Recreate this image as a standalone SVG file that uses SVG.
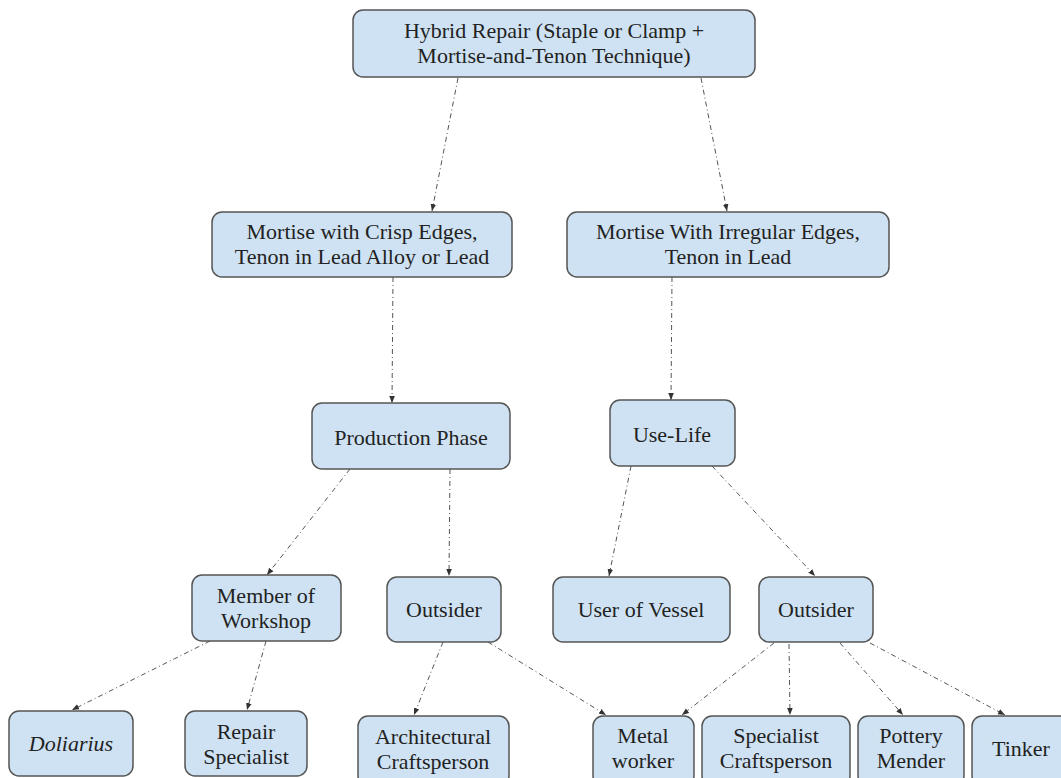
<svg xmlns="http://www.w3.org/2000/svg" width="1061" height="778" viewBox="0 0 1061 778">
<style>
.n rect{fill:#cfe2f3;stroke:#555;stroke-width:1.5}
.n text{font-family:"Liberation Serif","DejaVu Serif",serif;font-size:22px;fill:#222;text-anchor:middle}
.c line{stroke:#555;stroke-width:1;stroke-dasharray:5 3 1 3;fill:none;marker-end:url(#ah)}
</style>
<defs>
<marker id="ah" viewBox="0 0 10 10" refX="10" refY="5" markerWidth="7" markerHeight="7" markerUnits="userSpaceOnUse" orient="auto">
<path d="M0,1 L10,5 L0,9 Z" fill="#333"/>
</marker>
</defs>
<rect width="1061" height="778" fill="#fff"/>
<g class="c">
<line x1="458" y1="78" x2="432" y2="211"/>
<line x1="701" y1="78" x2="727" y2="211"/>
<line x1="393" y1="277" x2="392" y2="403"/>
<line x1="672" y1="277" x2="671" y2="400"/>
<line x1="350" y1="469" x2="267" y2="575"/>
<line x1="450" y1="469" x2="449" y2="576"/>
<line x1="631" y1="466" x2="609" y2="576"/>
<line x1="712" y1="466" x2="815" y2="576"/>
<line x1="210" y1="641" x2="72" y2="710"/>
<line x1="266" y1="641" x2="247" y2="710"/>
<line x1="443" y1="642" x2="414" y2="715"/>
<line x1="488" y1="642" x2="606" y2="715"/>
<line x1="774" y1="643" x2="682" y2="715"/>
<line x1="789" y1="644" x2="790" y2="715"/>
<line x1="840" y1="643" x2="903" y2="715"/>
<line x1="870" y1="643" x2="1005" y2="715"/>
</g>
<g id="n1" class="n"><rect x="353" y="10" width="402" height="67" rx="10"/><text x="554" y="38">Hybrid Repair (Staple or Clamp +</text><text x="554" y="63">Mortise-and-Tenon Technique)</text></g>
<g id="n2" class="n"><rect x="212" y="212" width="300" height="65" rx="10"/><text x="362" y="239">Mortise with Crisp Edges,</text><text x="362" y="264">Tenon in Lead Alloy or Lead</text></g>
<g id="n3" class="n"><rect x="567" y="212" width="322" height="65" rx="10"/><text x="728" y="239">Mortise With Irregular Edges,</text><text x="728" y="264">Tenon in Lead</text></g>
<g id="n4" class="n"><rect x="312" y="403" width="198" height="66" rx="10"/><text x="411" y="445">Production Phase</text></g>
<g id="n5" class="n"><rect x="610" y="400" width="125" height="66" rx="10"/><text x="672" y="442">Use-Life</text></g>
<g id="n6" class="n"><rect x="192" y="575" width="149" height="66" rx="10"/><text x="266" y="603">Member of</text><text x="266" y="628">Workshop</text></g>
<g id="n7" class="n"><rect x="387" y="577" width="114" height="65" rx="10"/><text x="444" y="617">Outsider</text></g>
<g id="n8" class="n"><rect x="553" y="577" width="177" height="65" rx="10"/><text x="641" y="617">User of Vessel</text></g>
<g id="n9" class="n"><rect x="759" y="577" width="114" height="65" rx="10"/><text x="816" y="617">Outsider</text></g>
<g id="n10" class="n"><rect x="9" y="711" width="124" height="65" rx="10"/><text x="71" y="751" font-style="italic">Doliarius</text></g>
<g id="n11" class="n"><rect x="185" y="711" width="122" height="65" rx="10"/><text x="246" y="739">Repair</text><text x="246" y="764">Specialist</text></g>
<g id="n12" class="n"><rect x="358" y="716" width="151" height="70" rx="10"/><text x="433" y="744">Architectural</text><text x="433" y="769">Craftsperson</text></g>
<g id="n13" class="n"><rect x="593" y="716" width="101" height="70" rx="10"/><text x="643" y="743">Metal</text><text x="643" y="768">worker</text></g>
<g id="n14" class="n"><rect x="702" y="716" width="148" height="70" rx="10"/><text x="776" y="743">Specialist</text><text x="776" y="768">Craftsperson</text></g>
<g id="n15" class="n"><rect x="858" y="716" width="106" height="70" rx="10"/><text x="911" y="743">Pottery</text><text x="911" y="768">Mender</text></g>
<g id="n16" class="n"><rect x="972" y="716" width="110" height="70" rx="10"/><text x="1021" y="756">Tinker</text></g>
</svg>
